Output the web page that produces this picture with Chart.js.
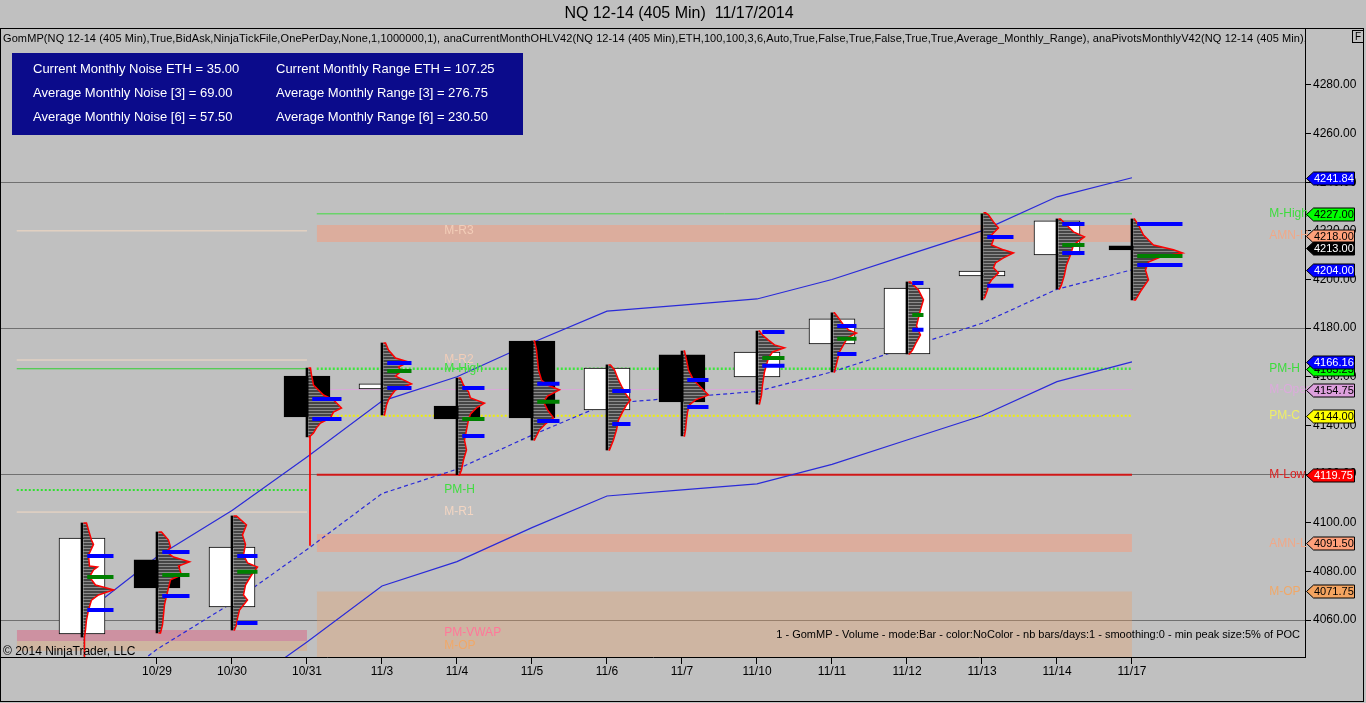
<!DOCTYPE html>
<html>
<head>
<meta charset="utf-8">
<title>NQ 12-14 (405 Min) 11/17/2014</title>
<script src="https://cdn.jsdelivr.net/npm/chart.js"></script>
<style>
    body { margin: 0; background: #c0c0c0; font-family: "Liberation Sans", Arial, sans-serif; }
    #wrap { position: relative; width: 1366px; height: 703px; overflow: hidden; }
    #chart { position: absolute; left: 0; top: 0; }
    .txt { position: absolute; white-space: nowrap; color: #000; }
    #title { left: 0; top: 4px; width: 1358px; text-align: center; font-size: 16px; }
    #frame { position: absolute; left: 0; top: 28px; width: 1362px; height: 672px; border: 1px solid #000; pointer-events: none; }
    #fbox { position: absolute; left: 1352px; top: 30px; width: 10px; height: 11px; border: 1px solid #000; font-size: 10px; line-height: 11px; text-align: center; }
    #params { left: 3px; top: 32px; width: 1302px; overflow: hidden; font-size: 11px; letter-spacing: 0.1px; }
    #info { position: absolute; left: 12px; top: 53px; width: 511px; height: 82px; background: #0b0b8b; color: #fff; font-size: 13px; }
    #info span { position: absolute; white-space: nowrap; }
    #copy { left: 3px; top: 644px; font-size: 12px; }
    #gom { right: 66px; top: 628px; font-size: 11px; }
</style>
</head>
<body>
<div id="wrap">
    <canvas id="chart" width="1366" height="703"></canvas>
    <div id="title" class="txt">NQ 12-14 (405 Min)&nbsp; 11/17/2014</div>
    <div id="frame"></div>
    <div id="fbox">F</div>
    <div id="params" class="txt">GomMP(NQ 12-14 (405 Min),True,BidAsk,NinjaTickFile,OnePerDay,None,1,1000000,1), anaCurrentMonthOHLV42(NQ 12-14 (405 Min),ETH,100,100,3,6,Auto,True,False,True,False,True,True,Average_Monthly_Range), anaPivotsMonthlyV42(NQ 12-14 (405 Min),ETH,Auto,True)</div>
    <div id="info">
        <span style="left:21px;top:8px">Current Monthly Noise ETH = 35.00</span>
        <span style="left:264px;top:8px">Current Monthly Range ETH = 107.25</span>
        <span style="left:21px;top:32px">Average Monthly Noise [3] = 69.00</span>
        <span style="left:264px;top:32px">Average Monthly Range [3] = 276.75</span>
        <span style="left:21px;top:56px">Average Monthly Noise [6] = 57.50</span>
        <span style="left:264px;top:56px">Average Monthly Range [6] = 230.50</span>
    </div>
    <div id="copy" class="txt">© 2014 NinjaTrader, LLC</div>
    <div id="gom" class="txt">1 - GomMP - Volume - mode:Bar - color:NoColor - nb bars/days:1 - smoothing:0 - min peak size:5% of POC</div>
</div>

<script>
    // Бары (405 мин), по одному на день
    const days = ['10/28', '10/29', '10/30', '10/31', '11/3', '11/4', '11/5', '11/6', '11/7', '11/10', '11/11', '11/12', '11/13', '11/14', '11/17'];
    const opens  = [4054.3, 4084.7, 4065.4, 4160.3, 4155.0, 4148.0, 4174.7, 4146.4, 4169.0, 4159.9, 4173.5, 4169.4, 4201.5, 4210.1, 4213.8];
    const highs  = [4099.9, 4096.2, 4102.8, 4163.6, 4173.9, 4159.5, 4174.7, 4164.9, 4170.6, 4178.8, 4186.3, 4199.0, 4227.0, 4224.9, 4224.9];
    const lows   = [4053.0, 4054.7, 4055.9, 4135.3, 4144.3, 4119.75, 4134.0, 4129.9, 4135.7, 4148.8, 4162.0, 4169.4, 4191.6, 4196.1, 4191.6];
    const closes = [4093.7, 4073.2, 4090.0, 4143.5, 4157.1, 4142.7, 4143.1, 4163.6, 4149.7, 4170.2, 4183.8, 4196.5, 4203.5, 4224.1, 4212.2];

    // Профиль объёма GomMP: [цена, объём]
    const profiles = [
        [[4099.9, 3], [4097.0, 5], [4092.9, 8], [4091.1, 10], [4086.7, 5], [4082.2, 6], [4081.8, 14], [4080.6, 10], [4077.7, 6], [4074.4, 12], [4072.4, 30], [4070.3, 15], [4068.2, 8], [4064.1, 5], [4060.0, 3], [4055.9, 2], [4053.0, 1], [4049.0, 1], [4044.0, 1]],
        [[4096.2, 3], [4092.9, 10], [4090.0, 12], [4088.0, 8], [4085.9, 15], [4083.9, 31], [4082.2, 20], [4078.5, 23], [4076.5, 12], [4073.2, 10], [4069.9, 8], [4066.2, 6], [4062.1, 5], [4058.0, 4], [4054.7, 2]],
        [[4102.8, 3], [4099.1, 13], [4095.0, 9], [4091.1, 12], [4086.7, 10], [4083.5, 14], [4081.8, 24], [4078.5, 18], [4074.4, 12], [4070.3, 10], [4068.2, 14], [4064.1, 6], [4060.8, 4], [4058.0, 3], [4055.9, 1]],
        [[4163.6, 2], [4160.8, 3], [4156.6, 5], [4152.5, 15], [4150.5, 25], [4147.2, 33], [4145.5, 25], [4143.1, 22], [4141.0, 12], [4139.0, 8], [4136.9, 5], [4135.3, 1]],
        [[4173.9, 2], [4171.0, 5], [4167.7, 12], [4166.1, 25], [4164.0, 15], [4162.4, 18], [4160.3, 12], [4158.3, 22], [4157.1, 28], [4154.6, 12], [4152.5, 8], [4150.5, 5], [4148.4, 3], [4144.3, 1]],
        [[4159.5, 2], [4156.6, 5], [4153.8, 10], [4151.3, 12], [4149.2, 26], [4147.2, 18], [4144.7, 12], [4142.3, 10], [4138.1, 8], [4134.0, 6], [4129.9, 8], [4125.8, 5], [4121.7, 3], [4119.6, 1]],
        [[4174.7, 1], [4171.0, 3], [4166.9, 4], [4162.8, 5], [4158.7, 8], [4156.6, 14], [4154.6, 26], [4152.1, 14], [4149.7, 10], [4146.4, 14], [4143.1, 20], [4140.6, 12], [4138.1, 6], [4135.7, 3], [4134.0, 1]],
        [[4164.9, 2], [4162.8, 6], [4158.7, 10], [4155.4, 14], [4152.5, 18], [4150.5, 22], [4148.4, 18], [4145.5, 14], [4142.3, 10], [4138.1, 8], [4134.0, 5], [4129.9, 1]],
        [[4170.6, 1], [4166.9, 3], [4162.8, 5], [4158.7, 10], [4155.4, 18], [4152.5, 25], [4150.5, 12], [4148.4, 6], [4145.5, 4], [4142.3, 3], [4138.1, 2], [4135.7, 1]],
        [[4178.8, 1], [4177.2, 4], [4175.1, 10], [4173.1, 16], [4171.9, 26], [4170.2, 14], [4167.7, 10], [4164.9, 8], [4162.0, 6], [4156.6, 4], [4152.5, 3], [4148.8, 1]],
        [[4186.3, 1], [4184.2, 5], [4181.3, 10], [4179.3, 15], [4178.0, 23], [4176.0, 14], [4173.1, 10], [4170.2, 6], [4166.9, 4], [4162.0, 1]],
        [[4199.0, 2], [4195.7, 10], [4191.6, 15], [4187.5, 12], [4184.2, 10], [4180.9, 8], [4177.2, 12], [4174.3, 8], [4171.0, 4], [4169.4, 1]],
        [[4227.4, 2], [4226.6, 5], [4223.7, 10], [4221.2, 15], [4218.3, 8], [4216.3, 10], [4214.2, 8], [4212.2, 20], [4210.9, 30], [4208.9, 20], [4206.8, 12], [4204.8, 10], [4202.7, 15], [4199.8, 8], [4197.8, 5], [4195.7, 4], [4192.4, 1]],
        [[4224.9, 2], [4222.4, 8], [4219.6, 15], [4217.5, 26], [4214.2, 15], [4210.1, 12], [4206.0, 8], [4201.9, 6], [4197.8, 3], [4196.1, 1]],
        [[4224.9, 1], [4222.4, 5], [4218.3, 10], [4214.2, 20], [4212.2, 40], [4210.9, 49], [4209.7, 30], [4207.2, 15], [4203.9, 12], [4199.8, 15], [4195.7, 8], [4191.6, 2]]
    ];
    // Зона стоимости и POC по каждому бару
    const vah = [4086.3, 4088.0, 4086.3, 4150.9, 4165.7, 4155.4, 4157.1, 4154.2, 4158.7, 4178.4, 4180.9, 4198.6, 4217.5, 4222.8, 4222.8];
    const val = [4064.1, 4069.9, 4058.8, 4142.7, 4155.4, 4135.7, 4141.8, 4140.6, 4147.6, 4164.5, 4169.4, 4179.3, 4197.4, 4210.9, 4206.0];
    const poc = [4077.7, 4078.5, 4079.8, null, 4162.4, 4142.7, 4149.7, null, null, 4167.7, 4175.6, 4185.4, null, 4214.2, 4209.7];

    // Канал (средний диапазон месяца)
    const chanUpper = [4062, 4086, 4105, 4127, 4150, 4160, 4174, 4187, 4189.5, 4192, 4200, 4210, 4220, 4234, 4241.84];
    const chanMid   = [4024, 4048, 4067, 4089, 4112, 4122, 4136, 4149, 4151.5, 4154, 4162, 4172, 4182, 4196, 4204.00];
    const chanLower = [3986, 4010, 4029, 4051, 4074, 4084, 4098, 4111, 4113.5, 4116, 4124, 4134, 4144, 4158, 4166.16];

    // Уровни текущего месяца
    const levelNames  = ['M-High', 'AMN-H', 'PM-H', 'M-Open', 'PM-C', 'M-Low', 'AMN-L', 'M-OP'];
    const levelPrices = [4227.00, 4218.00, 4163.3, 4154.75, 4144.00, 4119.75, 4091.50, 4071.75];
    const amnHighBand = [4215.4, 4222.4];
    const amnLowBand  = [4088.0, 4095.4];

    // Уровни прошлого месяца
    const prevNames  = ['M-R3', 'M-R2', 'M-High', 'PM-H', 'M-R1', 'PM-VWAP', 'M-OP'];
    const prevPrices = [4220.0, 4166.9, 4163.3, 4113.5, 4104.4, 4054.7, 4049.6];
    const prevVwapBand = [4051.4, 4055.9];
    const prevOpBand   = [4047.3, 4051.4];

    // Метки цены на правой шкале
    const tagAt   = [4241.84, 4227.00, 4218.00, 4213.00, 4204.00, 4163.3, 4166.16, 4154.75, 4144.00, 4119.75, 4091.50, 4071.75];
    const tagText = ['4241.84', '4227.00', '4218.00', '4213.00', '4204.00', '4165.25', '4166.16', '4154.75', '4144.00', '4119.75', '4091.50', '4071.75'];

    const yTicks = [4060, 4080, 4100, 4120, 4140, 4160, 4180, 4200, 4220, 4240, 4260, 4280];
    const gridPrices = [4060, 4120, 4180, 4240];

    // ---- оформление ----
    const FONT = '"Liberation Sans", Arial, sans-serif';
    const tagFill = ['#0000ff', '#00ff00', '#ffa07a', '#000000', '#0000ff', '#00ff00', '#0000ff', '#dda0dd', '#ffff00', '#ff0000', '#ffa07a', '#f4a460'];
    const tagInk  = ['#fff', '#000', '#000', '#fff', '#fff', '#000', '#fff', '#000', '#000', '#fff', '#000', '#000'];
    const levelInk = ['#3cdc3c', '#f0a888', '#3cdc3c', '#dcaadc', '#eeee66', '#dd2020', '#f0a888', '#f0a868'];
    const prevInk  = ['#f2cdb8', '#f2cdb8', '#40dd40', '#40dd40', '#f2d5c2', '#ff7799', '#f0a868'];
    const volScale = 1 / 75;           // ширина профиля: единиц объёма -> доля бара
    const monthFrom = 3.13, monthTo = 14, prevFrom = -0.87, prevTo = 3.0;
    const labelX = 4.83, rightLabelX = 15.83;

    function stripes() {
        const c = document.createElement('canvas');
        c.width = 4; c.height = 3;
        const g = c.getContext('2d');
        g.fillStyle = '#8c8c8c'; g.fillRect(0, 0, 4, 3);
        g.fillStyle = '#454545'; g.fillRect(0, 0, 4, 2);
        return g.createPattern(c, 'repeat');
    }
    const profileFill = stripes();

    function flat(from, to, price) {
        return [{ x: from, y: price }, { x: to, y: price }];
    }
    function line(data, color, width, extra) {
        return Object.assign({ type: 'line', data, borderColor: color, borderWidth: width, pointRadius: 0, fill: false, order: 80 }, extra);
    }
    function markers(levels) {
        const out = [];
        levels.forEach((p, i) => {
            if (p == null) return;
            const w = Math.max(...profiles[i].map(r => r[1]));
            out.push({ x: i + 0.07, y: p }, { x: i + 0.02 + w * volScale, y: p }, { x: i + 0.5, y: null });
        });
        return out;
    }

    const datasets = [];
    // фоновые зоны
    datasets.push(line(flat(monthFrom, monthTo, levelPrices[7]), 'rgba(0,0,0,0)', 0, { fill: 'start', backgroundColor: 'rgba(235,160,100,0.32)', order: 99 }));
    [amnHighBand, amnLowBand].forEach(b => {
        datasets.push(line(flat(monthFrom, monthTo, b[1]), 'rgba(0,0,0,0)', 0, { order: 98 }));
        datasets.push(line(flat(monthFrom, monthTo, b[0]), 'rgba(0,0,0,0)', 0, { fill: '-1', backgroundColor: 'rgba(255,150,115,0.45)', order: 98 }));
    });
    [[prevVwapBand, 'rgba(215,105,135,0.55)'], [prevOpBand, 'rgba(235,160,100,0.35)']].forEach(([b, c]) => {
        datasets.push(line(flat(prevFrom, prevTo, b[1]), 'rgba(0,0,0,0)', 0, { order: 98 }));
        datasets.push(line(flat(prevFrom, prevTo, b[0]), 'rgba(0,0,0,0)', 0, { fill: '-1', backgroundColor: c, order: 98 }));
    });

    // линии уровней
    datasets.push(line(flat(monthFrom, monthTo, levelPrices[0]), '#40dc40', 1));
    datasets.push(line(flat(monthFrom, monthTo, levelPrices[2]), '#3ce63c', 2.5, { borderDash: [2, 2] }));
    datasets.push(line(flat(monthFrom, monthTo, levelPrices[3]), '#d9a9d9', 1));
    datasets.push(line(flat(monthFrom, monthTo, levelPrices[4]), '#f2f200', 2, { borderDash: [2, 2] }));
    datasets.push(line(flat(monthFrom, monthTo, levelPrices[5]), '#d01818', 2));
    datasets.push(line(flat(prevFrom, prevTo, prevPrices[0]), '#f3d9c3', 1));
    datasets.push(line(flat(prevFrom, prevTo, prevPrices[1]), '#f3d9c3', 1));
    datasets.push(line(flat(prevFrom, prevTo, prevPrices[2]), '#30d030', 1));
    datasets.push(line(flat(prevFrom, prevTo, prevPrices[3]), '#30e030', 2, { borderDash: [2, 2] }));
    datasets.push(line(flat(prevFrom, prevTo, prevPrices[4]), '#f3d9c3', 1));

    // канал
    const chan = arr => days.map((d, i) => ({ x: i, y: arr[i] }));
    datasets.push(line(chan(chanUpper), '#2a2ad8', 1.2, { order: 60 }));
    datasets.push(line(chan(chanMid), '#2a2ad8', 1.2, { borderDash: [4, 3], order: 60 }));
    datasets.push(line(chan(chanLower), '#2a2ad8', 1.2, { order: 60 }));

    // свечи
    datasets.push({
        type: 'bar', order: 40, grouped: false, barThickness: 46,
        data: days.map((d, i) => ({ x: i, y: [opens[i], closes[i]] })),
        backgroundColor: c => closes[c.dataIndex] > opens[c.dataIndex] ? '#ffffff' : '#000000',
        borderColor: '#000', borderWidth: 1, borderSkipped: false
    });
    datasets.push({
        type: 'bar', order: 35, grouped: false, barThickness: 2,
        data: days.map((d, i) => ({ x: i, y: [lows[i], highs[i]] })),
        backgroundColor: '#000', borderWidth: 0
    });
    datasets.push(line([{ x: 3.04, y: highs[3] }, { x: 3.04, y: 4090.6 }], '#ff0000', 1, { order: 30 }));

    // профили
    profiles.forEach((p, i) => {
        const x0 = i + 0.02;
        const pts = [{ x: x0, y: p[0][0] }]
            .concat(p.map(([price, vol]) => ({ x: x0 + vol * volScale, y: price })))
            .concat([{ x: x0, y: p[p.length - 1][0] }]);
        datasets.push(line(pts, '#ff0000', 1.5, { fill: 'shape', backgroundColor: profileFill, order: 20 }));
    });

    // VAH / VAL / POC
    datasets.push(line(markers(vah), '#0000ff', 4, { order: 10, borderCapStyle: 'butt' }));
    datasets.push(line(markers(val), '#0000ff', 4, { order: 10, borderCapStyle: 'butt' }));
    datasets.push(line(markers(poc), '#008000', 4, { order: 10, borderCapStyle: 'butt' }));

    const overlay = {
        id: 'overlay',
        afterDatasetsDraw(chart) {
            const { ctx, chartArea: a, scales: { x, y } } = chart;
            ctx.save();
            ctx.beginPath();
            ctx.rect(a.left, a.top, a.right - a.left, a.bottom - a.top);
            ctx.clip();
            ctx.font = '12px ' + FONT;
            ctx.textBaseline = 'middle';
            ctx.textAlign = 'left';
            prevNames.forEach((n, k) => {
                ctx.fillStyle = prevInk[k];
                ctx.fillText(n, x.getPixelForValue(labelX), y.getPixelForValue(prevPrices[k]));
            });
            ctx.restore();
        },
        afterDraw(chart) {
            const { ctx, chartArea: a, scales: { x, y } } = chart;
            ctx.save();
            ctx.font = '12px ' + FONT;
            ctx.textBaseline = 'middle';
            ctx.textAlign = 'left';
            levelNames.forEach((n, k) => {
                ctx.fillStyle = levelInk[k];
                ctx.fillText(n, x.getPixelForValue(rightLabelX), y.getPixelForValue(levelPrices[k]));
            });
            // метки цены
            ctx.font = '11px ' + FONT;
            tagAt.forEach((p, k) => {
                const py = Math.round(y.getPixelForValue(p)) + 0.5;
                const x0 = a.right + 1.5;
                ctx.beginPath();
                ctx.moveTo(x0, py);
                ctx.lineTo(x0 + 7, py - 6.5);
                ctx.lineTo(x0 + 48, py - 6.5);
                ctx.lineTo(x0 + 48, py + 6.5);
                ctx.lineTo(x0 + 7, py + 6.5);
                ctx.closePath();
                ctx.fillStyle = tagFill[k];
                ctx.fill();
                ctx.strokeStyle = '#000';
                ctx.lineWidth = 1;
                ctx.stroke();
                ctx.fillStyle = tagInk[k];
                ctx.fillText(tagText[k], x0 + 7.5, py + 0.5);
            });
            ctx.restore();
        }
    };

    new Chart(document.getElementById('chart'), {
        type: 'bar',
        data: { datasets },
        options: {
            responsive: false,
            devicePixelRatio: 1,
            animation: false,
            events: [],
            layout: { padding: { left: 1, top: 28, right: 3, bottom: 6 } },
            plugins: { legend: { display: false }, tooltip: { enabled: false } },
            scales: {
                x: {
                    type: 'linear', min: -1.08, max: 16.307, offset: false,
                    grid: { offset: false, drawOnChartArea: false, color: '#000', tickLength: 7 },
                    border: { color: '#000' },
                    afterBuildTicks: s => { s.ticks = days.slice(1).map((d, k) => ({ value: k + 1 })); },
                    afterFit: s => { s.height = 40; },
                    ticks: { autoSkip: false, maxRotation: 0, padding: 0, color: '#000', font: { family: FONT, size: 12 }, callback: v => days[v] }
                },
                y: {
                    type: 'linear', position: 'right', min: 4044.8, max: 4303.4, beginAtZero: false,
                    grid: {
                        color: c => (c.tick && gridPrices.includes(c.tick.value)) ? '#707070' : 'rgba(0,0,0,0)',
                        tickColor: '#000', tickLength: 6
                    },
                    border: { color: '#000' },
                    afterBuildTicks: s => { s.ticks = yTicks.map(v => ({ value: v })); },
                    afterFit: s => { s.width = 58; },
                    ticks: { padding: 2, color: '#000', font: { family: FONT, size: 12 }, callback: v => v.toFixed(2) }
                }
            }
        },
        plugins: [overlay]
    });
</script>
</body>
</html>
